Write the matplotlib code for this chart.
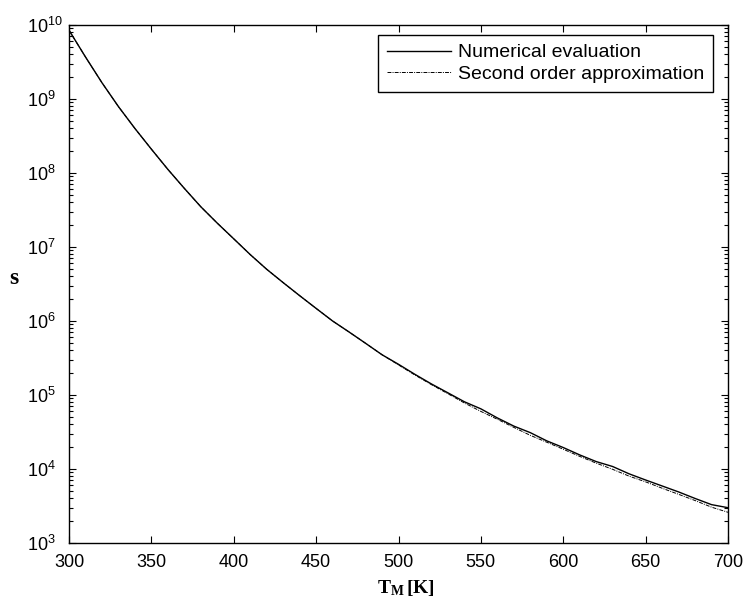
import matplotlib
matplotlib.use('Agg')
import matplotlib.pyplot as plt
import numpy as np

# -------------------------- Data --------------------------
T_num = [300, 310, 320, 330, 340, 350, 360, 370, 380, 390,
         400, 410, 420, 430, 440, 450, 460, 470, 480, 490,
         500, 510, 520, 530, 540, 550, 560, 570, 580, 590,
         600, 610, 620, 630, 640, 650, 660, 670, 680, 690, 700]
s_num = [8.5e9, 3.7e9, 1.66e9, 7.9e8, 4.0e8, 2.1e8, 1.12e8, 6.2e7, 3.5e7, 2.1e7,
         1.29e7, 7.9e6, 5.0e6, 3.3e6, 2.2e6, 1.48e6, 1.0e6, 7.1e5, 5.0e5, 3.5e5,
         2.6e5, 1.9e5, 1.41e5, 1.07e5, 8.1e4, 6.5e4, 4.9e4, 3.8e4, 3.1e4, 2.4e4,
         1.95e4, 1.55e4, 1.26e4, 1.08e4, 8.6e3, 7.1e3, 5.9e3, 4.9e3, 4.0e3, 3.3e3, 3.0e3]
s_approx = [8.5e9, 3.7e9, 1.66e9, 7.9e8, 4.0e8, 2.1e8, 1.12e8, 6.2e7, 3.5e7, 2.1e7,
            1.29e7, 7.9e6, 5.0e6, 3.3e6, 2.2e6, 1.48e6, 1.0e6, 7.1e5, 5.0e5, 3.5e5,
            2.55e5, 1.86e5, 1.38e5, 1.04e5, 7.8e4, 6.0e4, 4.7e4, 3.65e4, 2.85e4, 2.3e4,
            1.85e4, 1.48e4, 1.2e4, 9.9e3, 8.0e3, 6.7e3, 5.5e3, 4.55e3, 3.75e3, 3.05e3, 2.6e3]
labels = ['Numerical evaluation', 'Second order approximation']

# -------------------------- Style --------------------------
plt.rcParams['font.family'] = ['Liberation Sans', 'DejaVu Sans']
plt.rcParams['mathtext.fontset'] = 'custom'
plt.rcParams['mathtext.rm'] = 'Liberation Sans'
plt.rcParams['mathtext.it'] = 'Liberation Sans:italic'
plt.rcParams['mathtext.bf'] = 'Liberation Serif:bold'

fig = plt.figure(figsize=(7.45, 6.07), dpi=100)
ax = fig.add_axes([69 / 745, 1 - 543 / 607, 659 / 745, 518 / 607])

ax.semilogy(T_num, s_num, color='black', linewidth=1.0, label=labels[0])
ax.semilogy(T_num, s_approx, color='black', linewidth=0.7,
            dashes=(4, 1.2, 1, 1.2), label=labels[1])

ax.set_xlim(300, 700)
ax.set_ylim(1e3, 1e10)
ax.set_xticks(np.arange(300, 701, 50))

ax.tick_params(which='both', direction='in', top=True, right=True, width=0.8)
ax.tick_params(which='major', length=5)
ax.tick_params(which='minor', length=3)
ax.tick_params(axis='x', labelsize=13, pad=8)
# MATLAB puts the "10" bases in one column, so left-align the y labels
ax.tick_params(axis='y', labelsize=13, pad=30)
for lbl in ax.get_yticklabels():
    lbl.set_horizontalalignment('left')
ax.xaxis.set_minor_locator(plt.NullLocator())
for sp in ax.spines.values():
    sp.set_linewidth(1.0)

ax.set_xlabel(r'$\mathbf{T_M\,[K]}$', fontsize=14)
ax.xaxis.set_label_coords(0.512, -0.068)
ax.xaxis.label.set_va('top')
ax.set_ylabel('s', fontsize=17, family='Liberation Serif', weight='bold', rotation=0)
ax.yaxis.set_label_coords(-0.083, 0.51)
ax.yaxis.label.set_va('center')
ax.yaxis.label.set_ha('center')

leg = ax.legend(loc='upper right', bbox_to_anchor=(713 / 745, 1 - 35 / 607),
                bbox_transform=fig.transFigure, fontsize=14, fancybox=False,
                edgecolor='black', framealpha=1, handlelength=3.3,
                handletextpad=0.35, borderpad=0.45, labelspacing=0.2,
                borderaxespad=0)
leg.get_frame().set_linewidth(1.0)

plt.savefig('out.png', dpi=100)
